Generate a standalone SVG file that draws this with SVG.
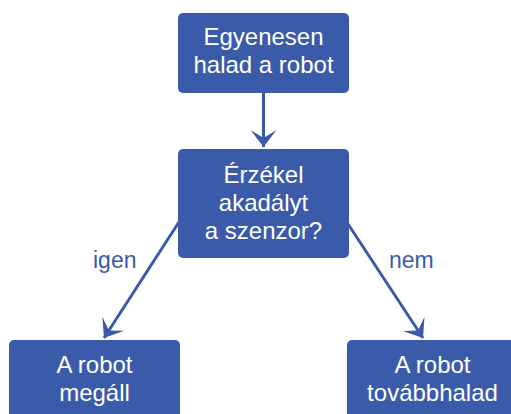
<svg xmlns="http://www.w3.org/2000/svg" width="511" height="414" viewBox="0 0 511 414">
<style>
.box{fill:#3A5BA9;}
.t{font-family:"Liberation Sans",Arial,sans-serif;font-size:24px;fill:#FFFFFF;text-anchor:middle;}
.lbl{font-family:"Liberation Sans",Arial,sans-serif;font-size:23px;fill:#3A5BA9;}
.c{stroke:#3A5BA9;stroke-width:3;fill:none;}
</style>
<defs>
<marker id="ah" markerUnits="userSpaceOnUse" markerWidth="40" markerHeight="40" viewBox="-20 -20 40 40" refX="0" refY="0" orient="auto">
<path d="M0,0 L-17,-13 L-9,0 L-17,13 Z" fill="#3A5BA9"/>
</marker>
</defs>
<rect width="511" height="414" fill="#FFFFFF"/>
<g id="connectors">
<line class="c" x1="263.5" y1="93" x2="263.5" y2="147" marker-end="url(#ah)"/>
<line class="c" x1="179" y1="222" x2="104" y2="338" marker-end="url(#ah)"/>
<line class="c" x1="348" y1="224" x2="423" y2="338" marker-end="url(#ah)"/>
<text class="lbl" x="93" y="268">igen</text>
<text class="lbl" x="389" y="268">nem</text>
</g>
<g id="n1">
<rect class="box" x="178" y="13" width="171" height="80" rx="5"/>
<text class="t" x="263.5" y="45">Egyenesen</text>
<text class="t" x="263.5" y="73">halad a robot</text>
</g>
<g id="n2">
<rect class="box" x="178" y="149" width="171" height="109" rx="5"/>
<text class="t" x="263.5" y="183">Érzékel</text>
<text class="t" x="263.5" y="211">akadályt</text>
<text class="t" x="263.5" y="239">a szenzor?</text>
</g>
<g id="n3">
<rect class="box" x="9" y="340" width="171" height="90" rx="5"/>
<text class="t" x="94.5" y="373">A robot</text>
<text class="t" x="94.5" y="401">megáll</text>
</g>
<g id="n4">
<rect class="box" x="347" y="340" width="171" height="90" rx="5"/>
<text class="t" x="432.5" y="373">A robot</text>
<text class="t" x="432.5" y="401">továbbhalad</text>
</g>
</svg>
